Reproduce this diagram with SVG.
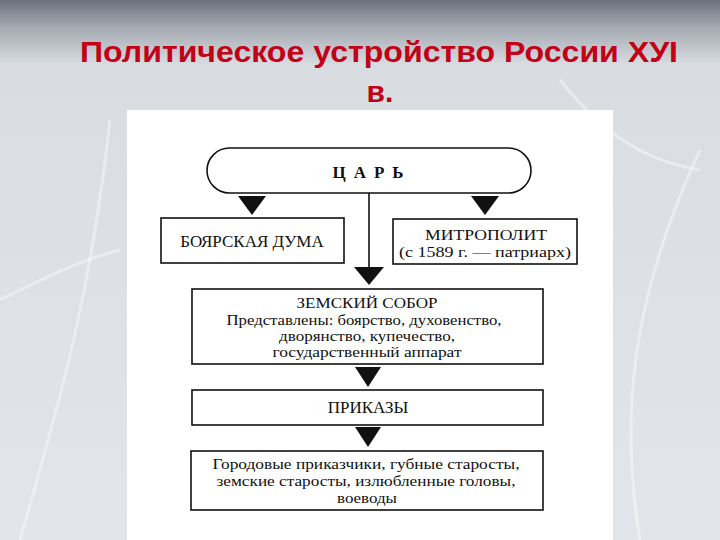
<svg xmlns="http://www.w3.org/2000/svg" width="720" height="540" viewBox="0 0 720 540">
<defs>
<linearGradient id="bg" x1="0" y1="0" x2="0" y2="1">
<stop offset="0" stop-color="#6c717c"/>
<stop offset="0.05" stop-color="#a4a9b1"/>
<stop offset="0.12" stop-color="#d9dde2"/>
<stop offset="1" stop-color="#e2e5e9"/>
</linearGradient>
<style>
.box{fill:#fff;stroke:#111;stroke-width:1.6}
.t{font-family:"Liberation Serif","Times New Roman",serif;font-size:17px;fill:#111;text-anchor:middle}
.s{font-size:15px}
.tri{fill:#111}
.ln{stroke:#111;stroke-width:1.6;fill:none}
</style>
</defs>
<rect width="720" height="540" fill="url(#bg)"/>
<g fill="none" stroke="#fff" stroke-opacity="0.4" stroke-width="3">
<path d="M20 540 C60 400 90 300 110 120"/>
<path d="M640 540 C620 420 630 300 700 150"/>
<path d="M560 80 C600 130 640 160 700 170"/>
<path d="M0 300 C40 280 80 260 120 250"/>
</g>
<rect x="127" y="110" width="486" height="430" fill="#fff"/>
<g id="title" font-family="'Liberation Sans',Arial,sans-serif" font-weight="bold" fill="#c20016" text-anchor="middle">
<text x="379" y="62" font-size="30" textLength="598" lengthAdjust="spacingAndGlyphs">Политическое устройство России ХУI</text>
<text x="380" y="102" font-size="30">в.</text>
</g>
<g id="connectors">
<line class="ln" x1="369" y1="193" x2="369" y2="268"/>
<polygon class="tri" points="238,196 266,196 252,215"/>
<polygon class="tri" points="471,196 499,196 485,215"/>
<polygon class="tri" points="354,267 384,267 369,285"/>
<polygon class="tri" points="355,367 381,367 368,387"/>
<polygon class="tri" points="355,427 381,427 368,447"/>
</g>
<g id="tsar">
<rect class="box" x="207" y="148" width="324" height="45" rx="22.5"/>
<text class="t" x="372" y="178" font-weight="bold" font-size="16" letter-spacing="8">ЦАРЬ</text>
</g>
<g id="duma">
<rect class="box" x="161" y="218" width="183" height="45"/>
<text class="t" x="252" y="247">БОЯРСКАЯ ДУМА</text>
</g>
<g id="metropolit">
<rect class="box" x="393" y="219" width="184" height="45"/>
<text class="t s" x="486" y="240" textLength="122" lengthAdjust="spacingAndGlyphs">МИТРОПОЛИТ</text>
<text class="t s" x="485" y="257" textLength="172" lengthAdjust="spacingAndGlyphs">(с 1589 г. — патриарх)</text>
</g>
<g id="sobor">
<rect class="box" x="192" y="289" width="351" height="75"/>
<text class="t s" x="367" y="308" textLength="141" lengthAdjust="spacingAndGlyphs">ЗЕМСКИЙ СОБОР</text>
<text class="t s" x="364" y="325" textLength="275" lengthAdjust="spacingAndGlyphs">Представлены: боярство, духовенство,</text>
<text class="t s" x="367" y="341" textLength="176" lengthAdjust="spacingAndGlyphs">дворянство, купечество,</text>
<text class="t s" x="367" y="357" textLength="189" lengthAdjust="spacingAndGlyphs">государственный аппарат</text>
</g>
<g id="prikazy">
<rect class="box" x="192" y="390" width="351" height="35"/>
<text class="t" x="368" y="413">ПРИКАЗЫ</text>
</g>
<g id="local">
<rect class="box" x="191" y="451" width="352" height="59"/>
<text class="t s" x="366" y="469" textLength="307" lengthAdjust="spacingAndGlyphs">Городовые приказчики, губные старосты,</text>
<text class="t s" x="366" y="486" textLength="299" lengthAdjust="spacingAndGlyphs">земские старосты, излюбленные головы,</text>
<text class="t s" x="367" y="503" textLength="60" lengthAdjust="spacingAndGlyphs">воеводы</text>
</g>
</svg>
